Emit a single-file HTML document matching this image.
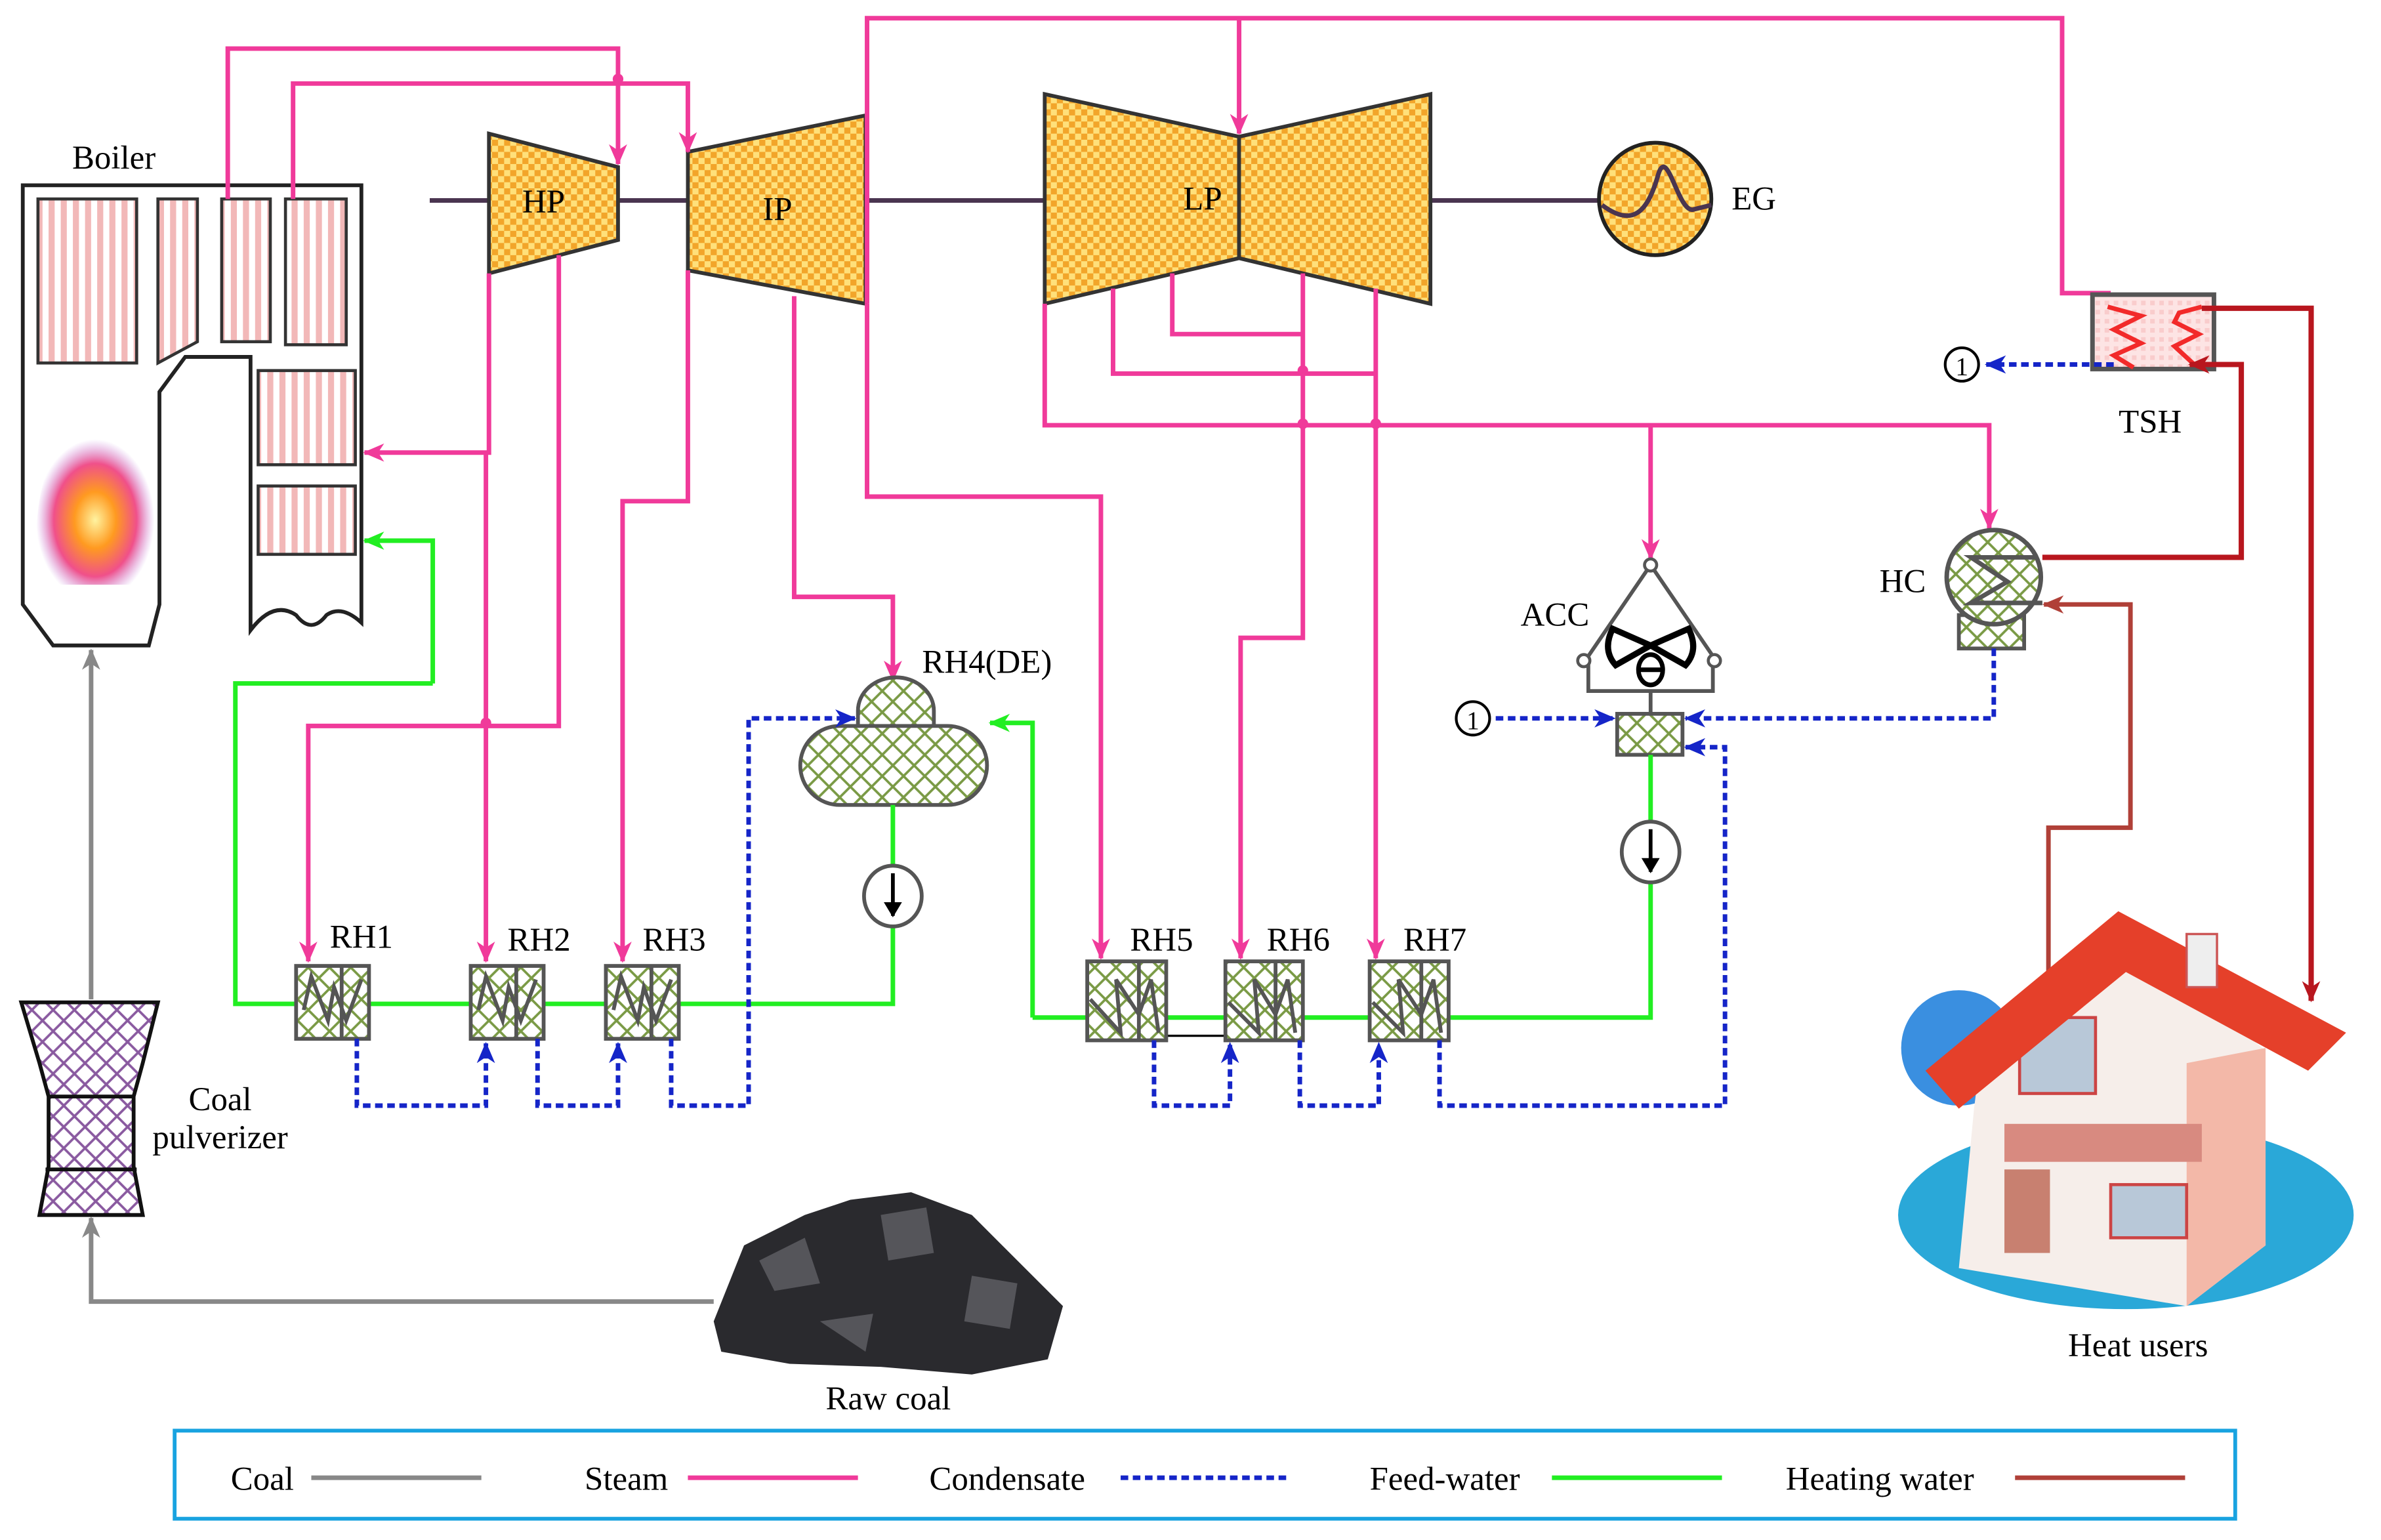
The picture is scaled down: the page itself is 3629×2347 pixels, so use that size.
<!DOCTYPE html>
<html><head><meta charset="utf-8"><style>
html,body{margin:0;padding:0;background:#fff;}
svg{display:block;}
text{font-family:"Liberation Serif",serif;fill:#000;}
</style></head><body>
<svg width="3629" height="2347" viewBox="0 0 1568 1014" preserveAspectRatio="none" xmlns="http://www.w3.org/2000/svg">
<defs>
<pattern id="chk" width="8" height="8" patternUnits="userSpaceOnUse">
<rect width="8" height="8" fill="#ffe07a"/><rect width="4" height="4" fill="#f2a52a"/><rect x="4" y="4" width="4" height="4" fill="#f2a52a"/></pattern>
<pattern id="grn" width="14" height="14" patternUnits="userSpaceOnUse">
<rect width="14" height="14" fill="#fff"/><path d="M0,0L14,14M14,0L0,14" stroke="#7a9a45" stroke-width="1.6"/></pattern>
<pattern id="pur" width="14" height="14" patternUnits="userSpaceOnUse">
<rect width="14" height="14" fill="#fff"/><path d="M0,0L14,14M14,0L0,14" stroke="#8a5aa0" stroke-width="1.6"/></pattern>
<pattern id="str" width="8" height="8" patternUnits="userSpaceOnUse">
<rect width="8" height="8" fill="#fff"/><rect width="4" height="8" fill="#f2b8b8"/></pattern>
<pattern id="pk" width="6" height="6" patternUnits="userSpaceOnUse">
<rect width="6" height="6" fill="#fde4e4"/><rect width="3" height="3" fill="#f9cccc"/></pattern>
<marker id="ap" markerWidth="14" markerHeight="14" refX="13" refY="7" orient="auto" markerUnits="userSpaceOnUse"><path d="M0,1L14,7L0,13L4,7Z" fill="#f03a9a"/></marker>
<marker id="ab" markerWidth="14" markerHeight="14" refX="13" refY="7" orient="auto" markerUnits="userSpaceOnUse"><path d="M0,1L14,7L0,13L4,7Z" fill="#1525c8"/></marker>
<marker id="ag" markerWidth="14" markerHeight="14" refX="13" refY="7" orient="auto" markerUnits="userSpaceOnUse"><path d="M0,1L14,7L0,13L4,7Z" fill="#22ee22"/></marker>
<marker id="ar" markerWidth="14" markerHeight="14" refX="13" refY="7" orient="auto" markerUnits="userSpaceOnUse"><path d="M0,1L14,7L0,13L4,7Z" fill="#b8161e"/></marker>
<marker id="abr" markerWidth="14" markerHeight="14" refX="13" refY="7" orient="auto" markerUnits="userSpaceOnUse"><path d="M0,1L14,7L0,13L4,7Z" fill="#b04038"/></marker>
<marker id="agr" markerWidth="14" markerHeight="14" refX="13" refY="7" orient="auto" markerUnits="userSpaceOnUse"><path d="M0,1L14,7L0,13L4,7Z" fill="#888"/></marker>
<marker id="ak" markerWidth="10" markerHeight="12" refX="9" refY="6" orient="auto" markerUnits="userSpaceOnUse"><path d="M0,0L10,6L0,12Z" fill="#000"/></marker>
<radialGradient id="fl" cx="50%" cy="60%" r="50%"><stop offset="0" stop-color="#fff3a0"/><stop offset="0.35" stop-color="#ff9a20"/><stop offset="0.7" stop-color="#f0508a"/><stop offset="1" stop-color="#c080e0" stop-opacity="0"/></radialGradient>
</defs>

<!-- Boiler -->
<path d="M15,122 L238,122 L238,410 Q225,398 215,405 Q205,418 195,405 Q180,395 165,415 L165,258 L165,235 L122,235 L105,258 L105,398 L98,425 L35,425 L15,398 Z" fill="#fff" stroke="#222" stroke-width="2.5"/>
<rect x="25" y="131" width="65" height="108" fill="url(#str)" stroke="#333" stroke-width="2"/>
<path d="M104,131 L130,131 L130,225 L104,239 Z" fill="url(#str)" stroke="#333" stroke-width="2"/>
<rect x="146" y="131" width="32" height="94" fill="url(#str)" stroke="#333" stroke-width="2"/>
<rect x="188" y="131" width="40" height="96" fill="url(#str)" stroke="#333" stroke-width="2"/>
<rect x="170" y="244" width="64" height="62" fill="url(#str)" stroke="#333" stroke-width="2"/>
<rect x="170" y="320" width="64" height="45" fill="url(#str)" stroke="#333" stroke-width="2"/>
<path d="M25,385 Q20,330 35,300 Q40,285 45,295 Q50,275 60,285 Q70,270 78,290 Q90,275 95,300 Q105,330 100,385 Z" fill="url(#fl)"/>
<text x="75" y="111" font-size="22" text-anchor="middle">Boiler</text>

<!-- shaft -->
<line x1="283" y1="132" x2="1055" y2="132" stroke="#4a3550" stroke-width="3"/>
<polygon points="322,88 407,110 407,158 322,180" fill="url(#chk)" stroke="#333" stroke-width="2.5"/>
<polygon points="453,100 570,76 570,200 453,178" fill="url(#chk)" stroke="#333" stroke-width="2.5"/>
<polygon points="688,62 816,90 816,170 688,200" fill="url(#chk)" stroke="#333" stroke-width="2.5"/>
<polygon points="816,90 942,62 942,200 816,170" fill="url(#chk)" stroke="#333" stroke-width="2.5"/>
<circle cx="1090" cy="131" r="37" fill="url(#chk)" stroke="#222" stroke-width="2.5"/>
<path d="M1055,135 C1075,150 1085,140 1092,115 C1098,95 1105,140 1115,138 L1127,135" fill="none" stroke="#4a3550" stroke-width="3"/>
<text x="358" y="140" font-size="22" text-anchor="middle">HP</text>
<text x="512" y="145" font-size="22" text-anchor="middle">IP</text>
<text x="792" y="138" font-size="22" text-anchor="middle">LP</text>
<text x="1155" y="138" font-size="22" text-anchor="middle">EG</text>

<!-- steam lines -->
<g fill="none" stroke="#f03a9a" stroke-width="3">
<path d="M150,131 V32 H407 V108" marker-end="url(#ap)"/>
<path d="M193,131 V55 H453 V100" marker-end="url(#ap)"/>
<path d="M571,200 V12 H1358 V193 H1390"/>
<path d="M816,12 V88" marker-end="url(#ap)"/>
<path d="M322,180 V298 H240" marker-end="url(#ap)"/>
<path d="M320,298 V633" marker-end="url(#ap)"/>
<path d="M368,168 V478 H203 V633" marker-end="url(#ap)"/>
<path d="M453,178 V330 H410 V633" marker-end="url(#ap)"/>
<path d="M523,195 V393 H588 V448" marker-end="url(#ap)"/>
<path d="M571,200 V327 H725 V631" marker-end="url(#ap)"/>
<path d="M688,200 V280 H1310 V348" marker-end="url(#ap)"/>
<path d="M1087,280 V368" marker-end="url(#ap)"/>
<path d="M733,190 V246 H906"/>
<path d="M772,180 V220 H858"/>
<path d="M858,180 V420 H817 V631" marker-end="url(#ap)"/>
<path d="M906,190 V631" marker-end="url(#ap)"/>
</g>
<g fill="#f03a9a"><circle cx="407" cy="52" r="3.5"/><circle cx="320" cy="476" r="3.5"/><circle cx="858" cy="244" r="3.5"/><circle cx="858" cy="279" r="3.5"/><circle cx="906" cy="279" r="3.5"/></g>

<!-- TSH -->
<rect x="1378" y="194" width="80" height="49" fill="url(#pk)" stroke="#555" stroke-width="3"/>
<path d="M1388,202 L1410,208 L1392,217 L1410,226 L1392,234 L1405,242" fill="none" stroke="#f22a2a" stroke-width="3"/>
<path d="M1450,202 L1435,206 L1432,212 L1448,220 L1432,228 L1445,240" fill="none" stroke="#f22a2a" stroke-width="3"/>
<text x="1416" y="285" font-size="22" text-anchor="middle">TSH</text>
<circle cx="1292" cy="240" r="11" fill="#fff" stroke="#000" stroke-width="1.8"/><text x="1292" y="247" font-size="17" text-anchor="middle">1</text>
<path d="M1392,240 H1308" stroke="#1525c8" stroke-width="3" stroke-dasharray="5,3" fill="none" marker-end="url(#ab)"/>
<g fill="none" stroke="#b8161e" stroke-width="3.5">
<path d="M1450,203 H1522 V659" marker-end="url(#ar)"/>
<path d="M1345,367 H1476 V240 H1442" marker-end="url(#ar)"/>
</g>
<path d="M1349,660 V545 H1403 V398 H1346" fill="none" stroke="#b04038" stroke-width="3" marker-end="url(#abr)"/>

<!-- HC -->
<rect x="1290" y="405" width="43" height="22" fill="url(#grn)" stroke="#555" stroke-width="2.5"/>
<ellipse cx="1313" cy="380" rx="31" ry="31" fill="url(#grn)" stroke="#555" stroke-width="3"/>
<path d="M1340,367 H1298 L1322,383 L1298,397 H1345" fill="none" stroke="#555" stroke-width="3"/>
<text x="1253" y="390" font-size="22" text-anchor="middle">HC</text>

<!-- ACC -->
<path d="M1087,372 L1046,432 M1087,372 L1128,432 M1046,432 V455 H1128 V432" fill="none" stroke="#555" stroke-width="2.5"/>
<circle cx="1087" cy="372" r="4" fill="#fff" stroke="#555" stroke-width="2"/>
<circle cx="1043" cy="435" r="4" fill="#fff" stroke="#555" stroke-width="2"/>
<circle cx="1129" cy="435" r="4" fill="#fff" stroke="#555" stroke-width="2"/>
<path d="M1087,425 L1062,414 Q1055,428 1064,438 Z M1087,425 L1112,414 Q1119,428 1110,438 Z" fill="#fff" stroke="#000" stroke-width="4"/>
<ellipse cx="1087" cy="441" rx="8" ry="10" fill="#fff" stroke="#000" stroke-width="3"/><line x1="1080" y1="441" x2="1094" y2="441" stroke="#000" stroke-width="3"/>
<line x1="1087" y1="455" x2="1087" y2="470" stroke="#555" stroke-width="2.5"/>
<rect x="1065" y="470" width="43" height="27" fill="url(#grn)" stroke="#555" stroke-width="2.5"/>
<text x="1024" y="412" font-size="22" text-anchor="middle">ACC</text>
<circle cx="970" cy="473" r="11" fill="#fff" stroke="#000" stroke-width="1.8"/><text x="970" y="480" font-size="17" text-anchor="middle">1</text>

<!-- DE -->
<path d="M565,490 V468 A25,22 0 0 1 615,468 V490 Z" fill="url(#grn)" stroke="#555" stroke-width="2.5"/>
<rect x="527" y="478" width="123" height="52" rx="26" fill="url(#grn)" stroke="#555" stroke-width="2.5"/>
<text x="650" y="443" font-size="22" text-anchor="middle">RH4(DE)</text>

<!-- green feed water -->
<g fill="none" stroke="#22ee22" stroke-width="3">
<path d="M285,450 V356 H240" marker-end="url(#ag)"/>
<path d="M285,450 H155 V661 H588 V610"/>
<path d="M588,570 V530"/>
<path d="M680,670 V476 H652" marker-end="url(#ag)"/>
<path d="M680,670 H1087 V582"/>
<path d="M1087,540 V497"/>
</g>
<line x1="768" y1="682" x2="850" y2="682" stroke="#000" stroke-width="1.5"/>
<ellipse cx="588" cy="590" rx="19" ry="20" fill="#fff" stroke="#555" stroke-width="2.5"/>
<path d="M588,575 V603" stroke="#000" stroke-width="2.5" marker-end="url(#ak)"/>
<ellipse cx="1087" cy="561" rx="19" ry="20" fill="#fff" stroke="#555" stroke-width="2.5"/>
<path d="M1087,546 V574" stroke="#000" stroke-width="2.5" marker-end="url(#ak)"/>

<!-- heaters -->
<g stroke="#555" stroke-width="2.5" fill="url(#grn)">
<rect x="195" y="636" width="48" height="48"/><rect x="310" y="636" width="48" height="48"/><rect x="399" y="636" width="48" height="48"/>
<rect x="716" y="633" width="52" height="52"/><rect x="807" y="633" width="51" height="52"/><rect x="902" y="633" width="52" height="52"/>
</g>
<g fill="none" stroke="#555" stroke-width="2.5">
<path d="M225,636V684M200,665 L205,643 L216,672 L220,650 L228,672 L238,645"/>
<path d="M340,636V684M315,665 L320,643 L331,672 L335,650 L343,672 L353,645"/>
<path d="M429,636V684M404,665 L409,643 L420,672 L424,650 L432,672 L442,645"/>
<path d="M750,633V685M718,658 L738,680 L735,645 L750,668 L758,645 L763,680"/>
<path d="M840,633V685M809,660 L829,680 L826,645 L840,668 L848,645 L853,680"/>
<path d="M936,633V685M904,660 L924,680 L921,645 L936,668 L944,645 L949,680"/>
</g>
<g font-size="22" text-anchor="middle">
<text x="238" y="624">RH1</text><text x="355" y="626">RH2</text><text x="444" y="626">RH3</text>
<text x="765" y="626">RH5</text><text x="855" y="626">RH6</text><text x="945" y="626">RH7</text></g>

<!-- condensate -->
<g fill="none" stroke="#1525c8" stroke-width="3" stroke-dasharray="5,3">
<path d="M235,684 V728 H320 V687" marker-end="url(#ab)"/>
<path d="M354,684 V728 H407 V687" marker-end="url(#ab)"/>
<path d="M442,684 V728 H493 V473 H563" marker-end="url(#ab)"/>
<path d="M760,685 V728 H810 V687" marker-end="url(#ab)"/>
<path d="M856,685 V728 H908 V687" marker-end="url(#ab)"/>
<path d="M948,685 V728 H1136 V492 H1110" marker-end="url(#ab)"/>
<path d="M985,473 H1063" marker-end="url(#ab)"/>
<path d="M1313,427 V473 H1110" marker-end="url(#ab)"/>
</g>

<!-- coal -->
<path d="M60,658 V428" stroke="#888" stroke-width="3" marker-end="url(#agr)"/>
<path d="M470,857 H60 V802" fill="none" stroke="#888" stroke-width="3" marker-end="url(#agr)"/>
<path d="M14,660 L104,660 L94,700 L88,722 L88,768 L94,800 L26,800 L32,768 L32,722 L26,700 Z" fill="url(#pur)" stroke="#111" stroke-width="2.5"/>
<line x1="32" y1="722" x2="88" y2="722" stroke="#111" stroke-width="2.5"/><line x1="30" y1="770" x2="90" y2="770" stroke="#111" stroke-width="2.5"/>
<text x="145" y="731" font-size="22" text-anchor="middle">Coal</text>
<text x="145" y="756" font-size="22" text-anchor="middle">pulverizer</text>
<g fill="#2a2a2e">
<path d="M470,870 L490,820 L530,800 L560,790 L600,785 L640,800 L670,830 L700,860 L690,895 L640,905 L580,900 L520,898 L475,890 Z"/>
</g>
<g fill="#55555a"><path d="M500,830 L530,815 L540,845 L510,850Z"/><path d="M580,800 L610,795 L615,825 L585,830Z"/><path d="M640,840 L670,845 L665,875 L635,870Z"/><path d="M540,870 L575,865 L570,890 Z"/></g>
<text x="585" y="928" font-size="22" text-anchor="middle">Raw coal</text>

<!-- house -->
<ellipse cx="1400" cy="800" rx="150" ry="62" fill="#2aa8d8"/>
<circle cx="1290" cy="690" r="38" fill="#3a8fe0"/>
<path d="M1300,730 L1305,690 L1400,620 L1490,690 L1492,820 L1440,860 L1290,835 Z" fill="#f6eeea"/>
<path d="M1440,700 L1492,690 L1492,820 L1440,860 Z" fill="#f3b8a8"/>
<rect x="1320" y="740" width="130" height="25" fill="#d88a80"/>
<rect x="1330" y="670" width="50" height="50" fill="#b8c8d8" stroke="#c44" stroke-width="2"/>
<rect x="1390" y="780" width="50" height="35" fill="#b8c8d8" stroke="#c44" stroke-width="2"/>
<rect x="1320" y="770" width="30" height="55" fill="#c88070"/>
<path d="M1268,705 L1395,600 L1545,680 L1520,705 L1400,640 L1290,730 Z" fill="#e5402a"/>
<rect x="1440" y="615" width="20" height="35" fill="#eee" stroke="#c55" stroke-width="1.5"/>
<text x="1408" y="893" font-size="22" text-anchor="middle">Heat users</text>

<!-- legend -->
<rect x="115" y="942" width="1357" height="58" fill="none" stroke="#19a3e0" stroke-width="2.5"/>
<g font-size="22">
<text x="152" y="981">Coal</text><line x1="205" y1="973" x2="317" y2="973" stroke="#888" stroke-width="3"/>
<text x="385" y="981">Steam</text><line x1="453" y1="973" x2="565" y2="973" stroke="#f03a9a" stroke-width="3"/>
<text x="612" y="981">Condensate</text><line x1="738" y1="973" x2="850" y2="973" stroke="#1525c8" stroke-width="3" stroke-dasharray="5,3"/>
<text x="902" y="981">Feed-water</text><line x1="1022" y1="973" x2="1134" y2="973" stroke="#22ee22" stroke-width="3"/>
<text x="1176" y="981">Heating water</text><line x1="1327" y1="973" x2="1439" y2="973" stroke="#b04038" stroke-width="3"/>
</g>
</svg>
</body></html>
